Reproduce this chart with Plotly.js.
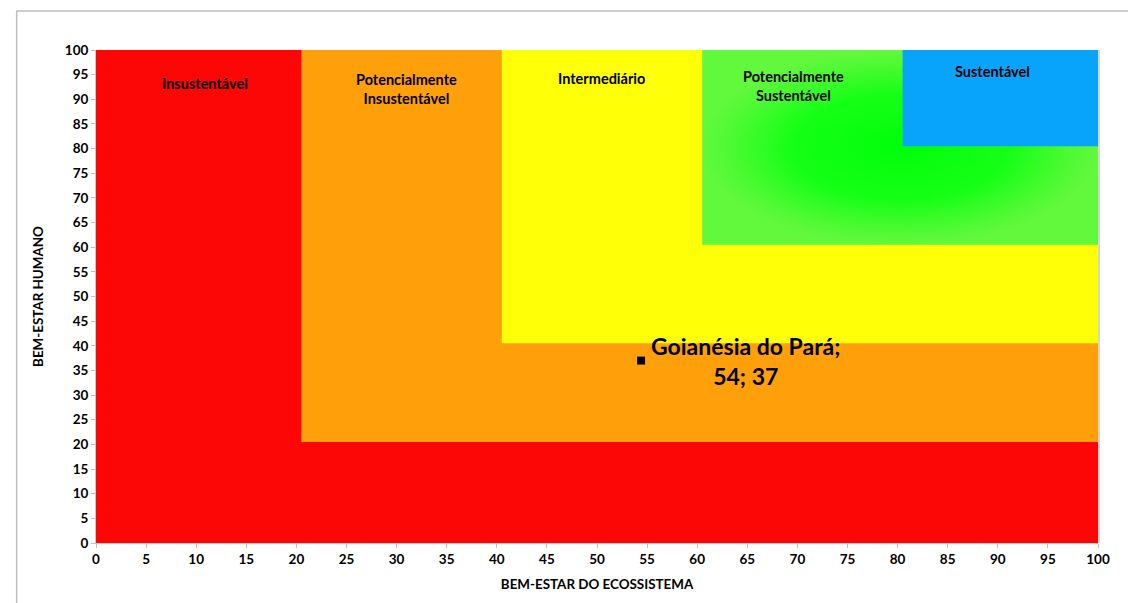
<!DOCTYPE html>
<html>
<head>
<meta charset="utf-8">
<script src="https://cdn.plot.ly/plotly-3.0.1.min.js"></script>
<style>html,body{margin:0;padding:0;background:#fff;}#chart{width:1128px;height:603px;}</style>
</head>
<body>
<div id="chart"></div>
<script>
// Zones: lower bound of each nested square (x and y from bound to 100)
const zoneNames = ["Insustentável", "Potencialmente<br>Insustentável", "Intermediário", "Potencialmente<br>Sustentável", "Sustentável"];
const zoneLower = [0, 20.5, 40.5, 60.5, 80.5];
const zoneColors = ["#fd0606", "#ffa00a", "#ffff08", "#22ff22", "#08a4fc"];
const labelX = [10.9, 31, 50.4, 69.6, 89.5];
const labelY = [93.2, 92.0, 94.2, 92.6, 95.6];

// Data point
const pointName = ["Goianésia do Pará"];
const ecoValues = [54.4];
const humanValues = [37];

const axisMin = 0, axisMax = 100;
const tickVals = [0,5,10,15,20,25,30,35,40,45,50,55,60,65,70,75,80,85,90,95,100];

const FONT = 'Lato, "Open Sans", sans-serif';

const traces = [];
zoneLower.forEach((lo, i) => {
  const t = {
    type: 'scatter', mode: 'lines',
    x: [lo, axisMax, axisMax, lo, lo],
    y: [lo, lo, axisMax, axisMax, lo],
    fill: 'toself',
    fillcolor: zoneColors[i],
    line: {width: 0},
    hoverinfo: 'skip', showlegend: false
  };
  if (i === 3) {
    t.fillgradient = {type: 'radial', colorscale: [[0, '#00ff0a'], [0.55, '#16ff16'], [0.85, '#4cfa32'], [1, '#62f83c']]};
  }
  traces.push(t);
});

traces.push({
  type: 'scatter', mode: 'markers',
  x: ecoValues, y: humanValues,
  marker: {symbol: 'square', size: 8, color: '#000'},
  showlegend: false, hoverinfo: 'skip'
});

const annotations = zoneNames.map((n, i) => ({
  x: labelX[i], y: labelY[i], xref: 'x', yref: 'y',
  text: '<b>' + n + '</b>', showarrow: false,
  font: {family: FONT, size: 14.5, color: '#000'},
  align: 'center', yanchor: 'middle'
}));
ecoValues.forEach((v, i) => {
  annotations.push({
    x: v, y: humanValues[i], xref: 'x', yref: 'y',
    text: '<b>' + pointName[i] + ';<br>' + Math.round(v) + '; ' + Math.round(humanValues[i]) + '</b>',
    showarrow: false, xanchor: 'left', yanchor: 'middle', xshift: 8, yshift: 0,
    align: 'center',
    font: {family: FONT, size: 23, color: '#000'}
  });
});

const tickFont = {family: FONT, size: 13.5, color: '#000', weight: 'bold'};

const layout = {
  width: 1128, height: 603,
  margin: {l: 96, r: 30, t: 50, b: 60},
  paper_bgcolor: '#fff', plot_bgcolor: '#fff',
  showlegend: false,
  xaxis: {
    range: [axisMin, axisMax], tickvals: tickVals, ticks: 'outside', ticklen: 4, tickcolor: '#bfbfbf',
    showgrid: false, zeroline: false, showline: true, linecolor: '#c8c8c8', linewidth: 1,
    tickfont: tickFont, fixedrange: true,
    title: {text: '<b>BEM-ESTAR DO ECOSSISTEMA</b>', font: {family: FONT, size: 13.4, color: '#000'}, standoff: 13}
  },
  yaxis: {
    range: [axisMin, axisMax], tickvals: tickVals, ticks: 'outside', ticklen: 4, tickcolor: '#bfbfbf',
    showgrid: false, zeroline: false, showline: true, linecolor: '#c8c8c8', linewidth: 1,
    tickfont: tickFont, fixedrange: true,
    title: {text: '<b>BEM-ESTAR HUMANO</b>', font: {family: FONT, size: 13.4, color: '#000'}, standoff: 18}
  },
  annotations: annotations,
  shapes: [
    {type: 'line', xref: 'paper', yref: 'paper', x0: -0.0792, x1: 1.05, y0: 1.0791, y1: 1.0791, line: {color: '#bdbdbd', width: 1.5}},
    {type: 'line', xref: 'paper', yref: 'paper', x0: -0.0792, x1: -0.0792, y0: -0.2, y1: 1.0791, line: {color: '#bdbdbd', width: 1.5}},
    {type: 'line', xref: 'paper', yref: 'paper', x0: 1.001, x1: 1.001, y0: 0, y1: 1, line: {color: '#c8c8c8', width: 1.5}}
  ]
};

Plotly.newPlot('chart', traces, layout, {displayModeBar: false, staticPlot: true});
</script>
</body>
</html>
